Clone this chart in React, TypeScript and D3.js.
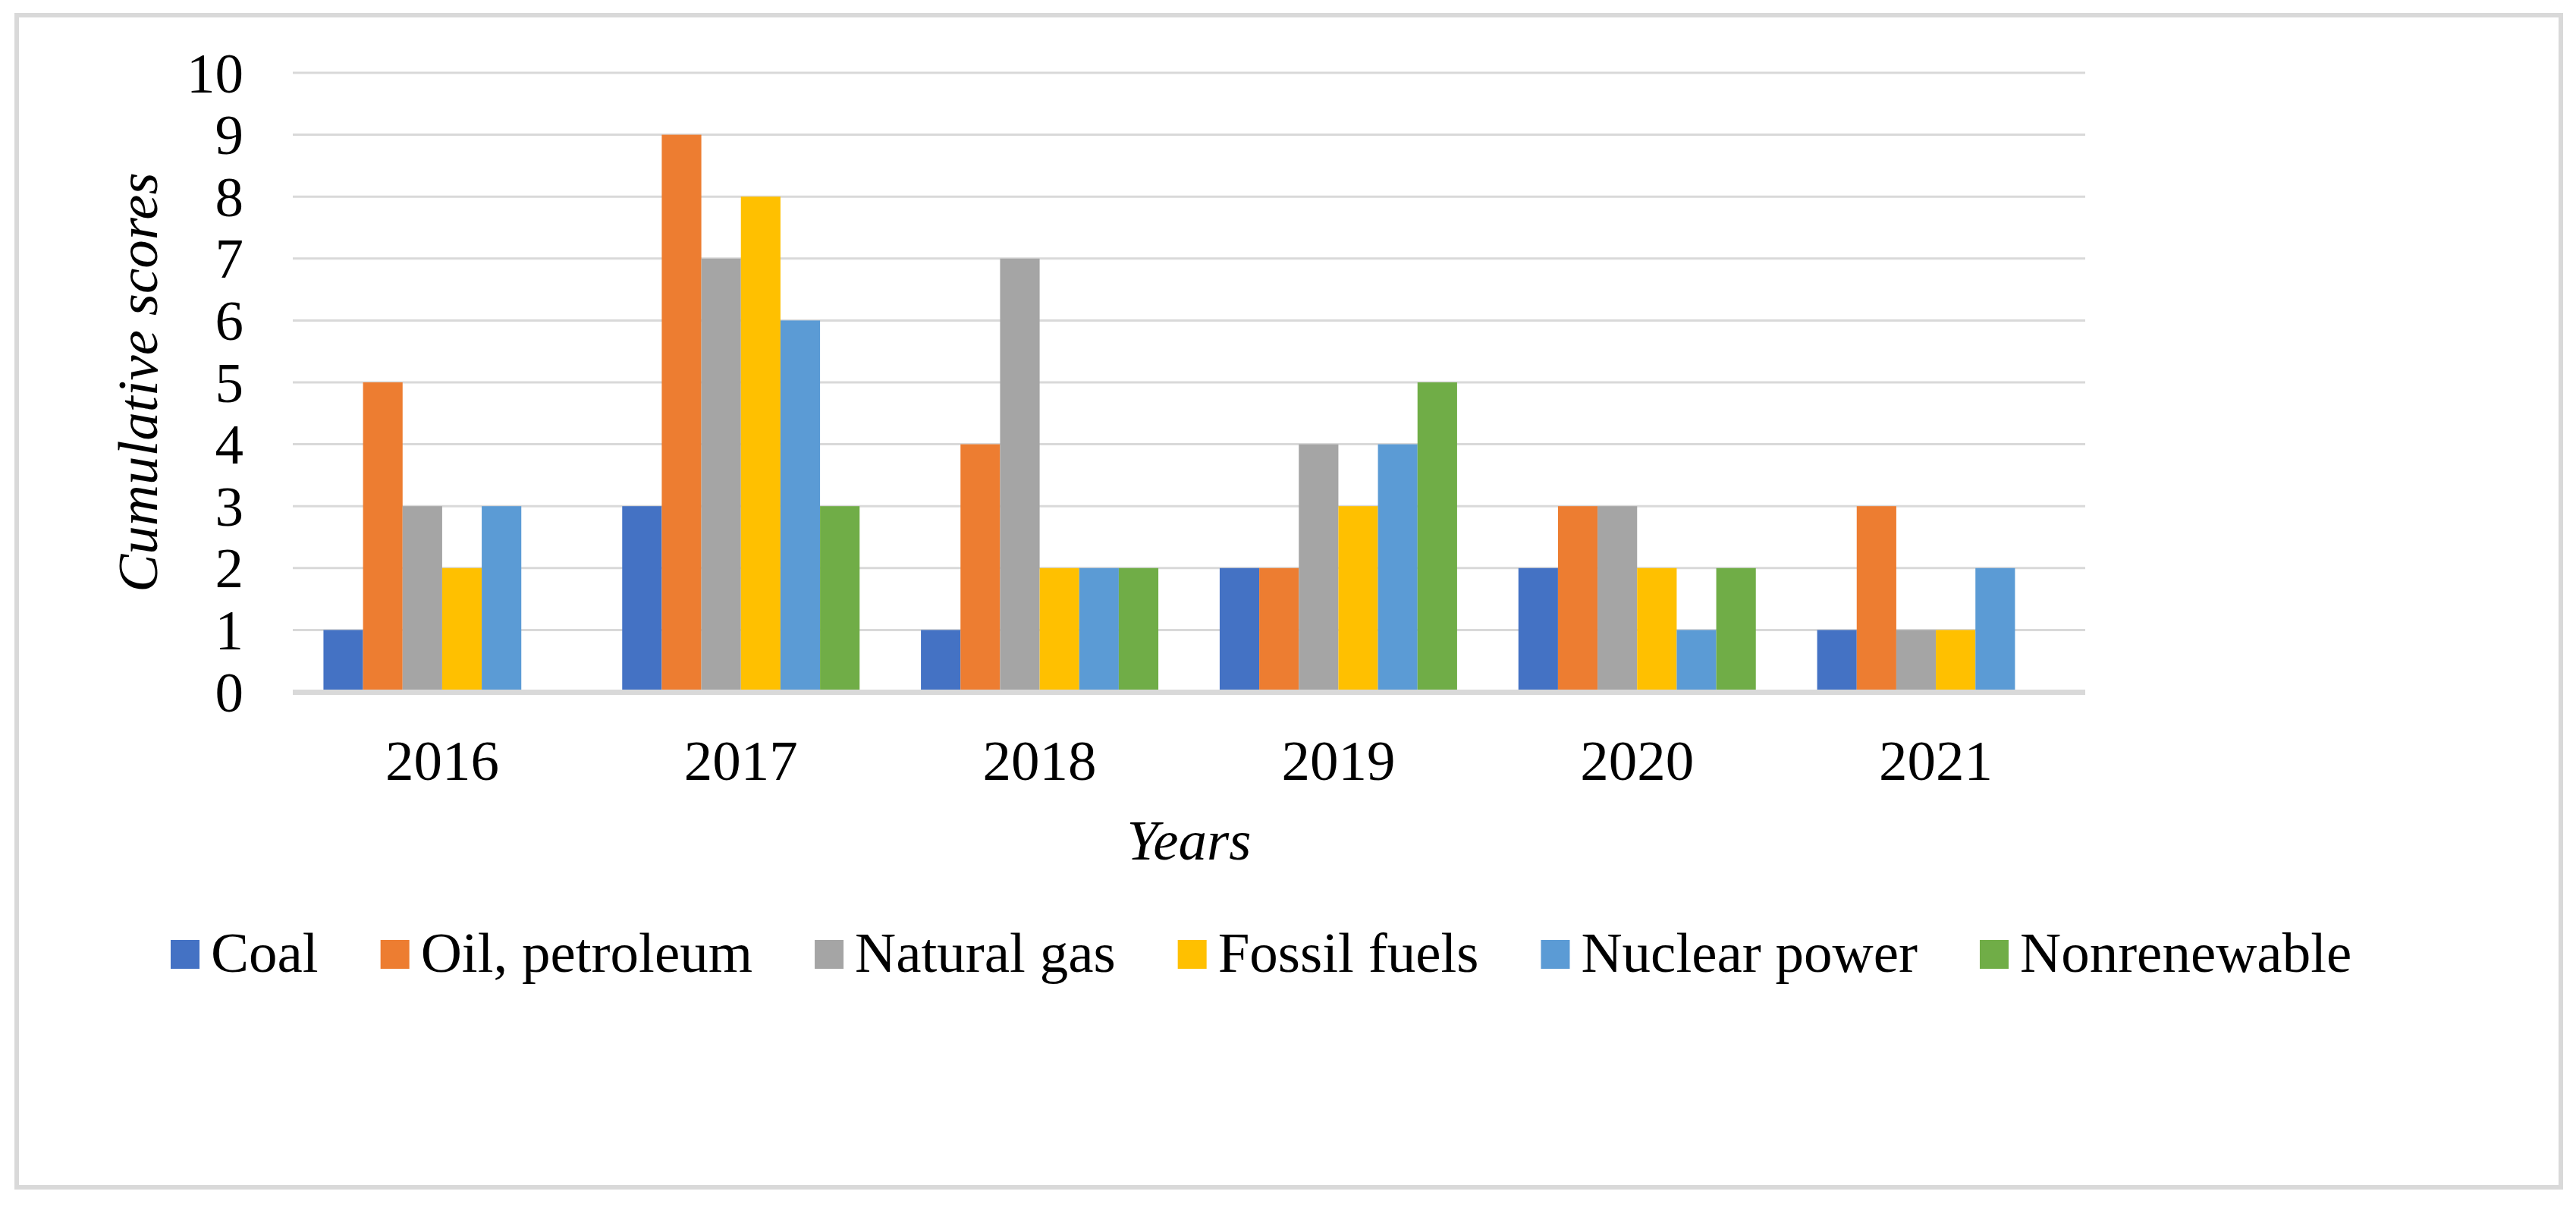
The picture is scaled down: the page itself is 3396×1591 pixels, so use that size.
import React, { useEffect, useMemo } from 'react';
import * as d3 from 'd3';

const years = ['2016', '2017', '2018', '2019', '2020', '2021'];
const seriesNames = ['Coal', 'Oil, petroleum', 'Natural gas', 'Fossil fuels', 'Nuclear power', 'Nonrenewable'];
const seriesColors = ['#4472C4', '#ED7D31', '#A5A5A5', '#FFC000', '#5B9BD5', '#70AD47'];

// one array per series, values per year
const coal = [1, 3, 1, 2, 2, 1];
const oil = [5, 9, 4, 2, 3, 3];
const gas = [3, 7, 7, 4, 3, 1];
const fossil = [2, 8, 2, 3, 2, 1];
const nuclear = [3, 6, 2, 4, 1, 2];
const nonrenewable = [0, 3, 2, 5, 2, 0];
const seriesValues = [coal, oil, gas, fossil, nuclear, nonrenewable];

const yTicks = d3.range(0, 11);

const W = 3396;
const H = 1591;
const FONT = '"Liberation Serif", "Times New Roman", serif';
const FS = 75;
const GRID = '#d9d9d9';

export default function App() {
  useEffect(() => {
    document.body.style.margin = '0';
    document.body.style.background = '#fff';
  }, []);

  const margin = { left: 386, right: W - 2749, top: 96, bottom: H - 912 };

  const x0 = d3.scaleBand<string>().domain(years).range([margin.left, W - margin.right]).paddingInner(0).paddingOuter(0);
  const bw = x0.bandwidth();
  const gap = bw * (1.55 / (6 + 1.55));
  const x1 = d3.scaleBand<number>().domain(d3.range(seriesNames.length)).range([gap / 2, bw - gap / 2]).padding(0);
  const y = d3.scaleLinear().domain([0, 10]).range([H - margin.bottom, margin.top]);

  // legend layout from measured text widths
  const legendItems = useMemo(() => {
    const ctx = document.createElement('canvas').getContext('2d')!;
    ctx.font = `${FS}px ${FONT}`;
    let cx = 225;
    return seriesNames.map((name, i) => {
      const w = ctx.measureText(name).width;
      const item = { name, color: seriesColors[i], x: cx };
      cx += 38 + 15 + w + 82;
      return item;
    });
  }, []);

  return (
    <svg width={W} height={H} style={{ display: 'block', background: '#fff', fontFamily: FONT }}>
      <rect x={22} y={20} width={3354} height={1545} fill="#fff" stroke={GRID} strokeWidth={6} />

      {/* gridlines */}
      {yTicks.filter(t => t > 0).map(t => (
        <line key={t} x1={x0.range()[0]} x2={x0.range()[1]} y1={y(t)} y2={y(t)} stroke={GRID} strokeWidth={3} />
      ))}

      {/* bars */}
      {years.map((yr, gi) => (
        <g key={yr} transform={`translate(${x0(yr)},0)`}>
          {seriesValues.map((vals, si) => (
            vals[gi] > 0 ? (
              <rect key={si} x={x1(si)} y={y(vals[gi])} width={x1.bandwidth()} height={y(0) - y(vals[gi])} fill={seriesColors[si]} />
            ) : null
          ))}
        </g>
      ))}

      {/* baseline */}
      <line x1={x0.range()[0]} x2={x0.range()[1]} y1={y(0) + 0.5} y2={y(0) + 0.5} stroke={GRID} strokeWidth={7} />

      {/* y tick labels */}
      {yTicks.map(t => (
        <text key={t} x={321} y={y(t)} dy="0.34em" textAnchor="end" fontSize={FS} fill="#000">{t}</text>
      ))}

      {/* x tick labels */}
      {years.map(yr => (
        <text key={yr} x={(x0(yr) as number) + bw / 2} y={1028} textAnchor="middle" fontSize={FS} fill="#000">{yr}</text>
      ))}

      {/* axis titles */}
      <text x={(x0.range()[0] + x0.range()[1]) / 2} y={1133} textAnchor="middle" fontSize={FS} fontStyle="italic" fill="#000">Years</text>
      <text transform={`translate(207,${(y(0) + y(10)) / 2}) rotate(-90)`} textAnchor="middle" fontSize={FS} fontStyle="italic" fill="#000">Cumulative scores</text>

      {/* legend */}
      {legendItems.map(it => (
        <g key={it.name}>
          <rect x={it.x} y={1239} width={38} height={38} fill={it.color} />
          <text x={it.x + 38 + 15} y={1281} fontSize={FS} fill="#000">{it.name}</text>
        </g>
      ))}
    </svg>
  );
}
